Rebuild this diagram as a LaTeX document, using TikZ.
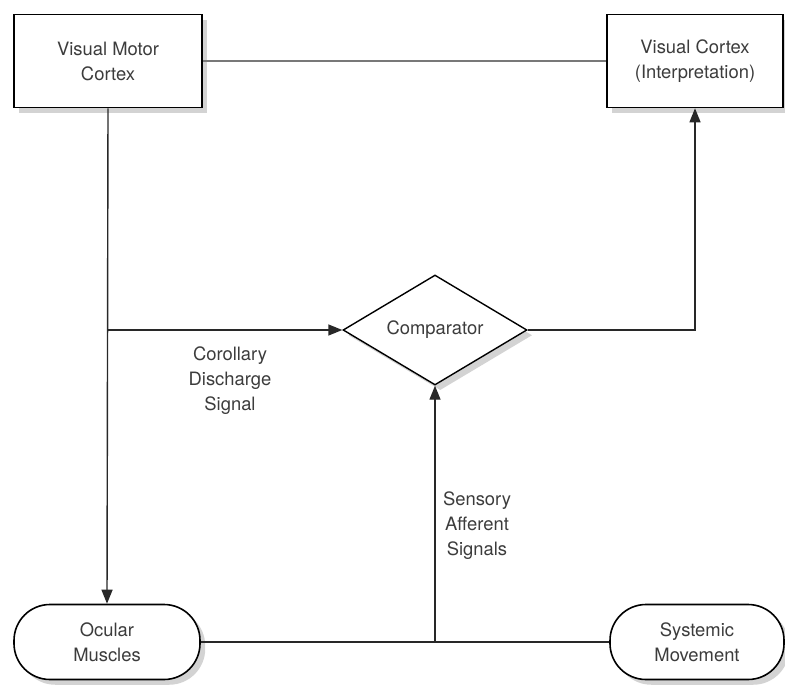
\documentclass[tikz,border=0pt]{standalone}
\usepackage{fontspec}
\setmainfont{TeX Gyre Heros}
\usepackage{tikz}
\usetikzlibrary{
  shapes.geometric,
  arrows.meta,
  positioning,
  calc,
  shadows
}
\definecolor{eyetext}{RGB}{60,60,60}
\definecolor{eyeline}{RGB}{40,40,40}
\definecolor{eyegray}{RGB}{120,120,120}
\tikzset{
  block/.style={
    rectangle, draw=black, line width=0.8pt, fill=white,
    minimum width=94pt, minimum height=46.5pt, align=center,
    text=eyetext, drop shadow={opacity=0.35}
  },
  pill/.style={
    block, rounded corners=18pt, minimum height=37.5pt
  },
  decision/.style={
    diamond, aspect=1.67, draw=black, line width=0.7pt, fill=white,
    minimum width=92pt, minimum height=55pt, inner sep=0pt,
    text=eyetext, drop shadow={opacity=0.35}
  },
  link/.style={line width=0.9pt, color=eyegray},
  line/.style={line width=0.7pt, color=eyeline},
  arrow/.style={line, -{Triangle[length=7pt,width=5.5pt]}},
  note/.style={align=center, text=eyetext}
}

\begin{document}
\begin{tikzpicture}[x=0.5pt,y=-0.5pt,font=\fontsize{9.2}{12.5}\selectfont]
  \useasboundingbox (0,0) rectangle (785,684);
  % Nodes
  \node[block] (motor) at (108,61) {Visual Motor\\Cortex};
  \node[block, minimum width=88pt] (cortex) at (695,61) {Visual Cortex\\(Interpretation)};
  \node[decision] (comp) at (435,330) {Comparator};
  \node[pill, minimum width=93pt] (ocular) at (107,642) {Ocular\\Muscles};
  \node[pill, minimum width=87pt] (systemic) at (697,642) {Systemic\\Movement};
  % Connectors
  \draw[link] (motor) -- (cortex);
  \draw[arrow] (motor.south) -- (ocular.north);
  \coordinate (branch) at (motor.south |- comp.west);
  \draw[arrow] (branch) -- (comp.west);
  \draw[arrow] (comp.east) -| (cortex.south);
  \draw[line] (ocular) -- (systemic);
  \coordinate (junction) at (ocular.east -| comp.south);
  \draw[arrow] (junction) -- (comp.south);
  % Labels
  \node[note] (corollary) at (230,381) {Corollary\\Discharge\\Signal};
  \node[note] (sensory) at (477,526) {Sensory\\Afferent\\Signals};
\end{tikzpicture}
\end{document}
